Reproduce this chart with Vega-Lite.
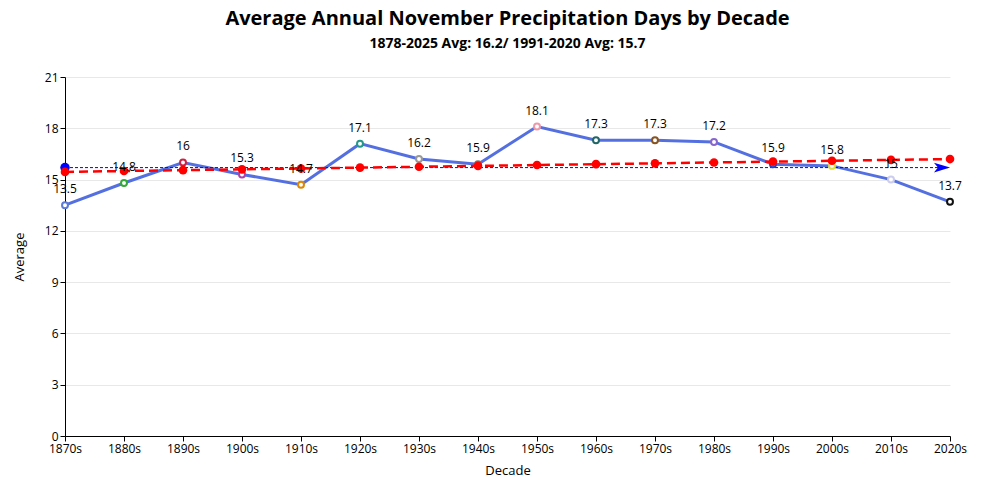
{
  "$schema": "https://vega.github.io/schema/vega-lite/v6.json",
  "width": 885,
  "height": 359,
  "autosize": {"type": "none"},
  "padding": {"left": 65, "top": 77, "right": 50, "bottom": 64},
  "background": "white",
  "title": {
    "text": "Average Annual November Precipitation Days by Decade",
    "subtitle": "1878-2025 Avg: 16.2/ 1991-2020 Avg: 15.7",
    "font": "Open Sans",
    "fontSize": 20,
    "fontWeight": "bold",
    "subtitleFont": "Open Sans",
    "subtitleFontSize": 14,
    "subtitleFontWeight": "bold",
    "subtitleColor": "black",
    "subtitlePadding": 8,
    "color": "black",
    "anchor": "middle",
    "offset": 20
  },
  "config": {
    "font": "Open Sans",
    "view": {"stroke": null},
    "axis": {
      "labelFont": "Open Sans",
      "titleFont": "Open Sans",
      "labelFontSize": 12,
      "titleFontSize": 13,
      "titleFontWeight": "normal",
      "labelColor": "black",
      "titleColor": "black",
      "domainColor": "black",
      "tickColor": "black",
      "gridColor": "#e8e8e8"
    }
  },
  "datasets": {
    "main": [
      {"decade": "1870s", "avg": 13.5},
      {"decade": "1880s", "avg": 14.8},
      {"decade": "1890s", "avg": 16.0},
      {"decade": "1900s", "avg": 15.3},
      {"decade": "1910s", "avg": 14.7},
      {"decade": "1920s", "avg": 17.1},
      {"decade": "1930s", "avg": 16.2},
      {"decade": "1940s", "avg": 15.9},
      {"decade": "1950s", "avg": 18.1},
      {"decade": "1960s", "avg": 17.3},
      {"decade": "1970s", "avg": 17.3},
      {"decade": "1980s", "avg": 17.2},
      {"decade": "1990s", "avg": 15.9},
      {"decade": "2000s", "avg": 15.8},
      {"decade": "2010s", "avg": 15.0},
      {"decade": "2020s", "avg": 13.7}
    ],
    "trend": [
      {"decade": "1870s", "trend": 15.45},
      {"decade": "1880s", "trend": 15.5},
      {"decade": "1890s", "trend": 15.55},
      {"decade": "1900s", "trend": 15.6},
      {"decade": "1910s", "trend": 15.65},
      {"decade": "1920s", "trend": 15.7},
      {"decade": "1930s", "trend": 15.75},
      {"decade": "1940s", "trend": 15.8},
      {"decade": "1950s", "trend": 15.85},
      {"decade": "1960s", "trend": 15.9},
      {"decade": "1970s", "trend": 15.95},
      {"decade": "1980s", "trend": 16.0},
      {"decade": "1990s", "trend": 16.05},
      {"decade": "2000s", "trend": 16.1},
      {"decade": "2010s", "trend": 16.15},
      {"decade": "2020s", "trend": 16.2}
    ],
    "ref": [
      {"decade": "1870s", "ref": 15.7, "end": "start"},
      {"decade": "2020s", "ref": 15.7, "end": "end"}
    ]
  },
  "encoding": {
    "x": {
      "field": "decade",
      "type": "ordinal",
      "scale": {"type": "point", "padding": 0},
      "axis": {"title": "Decade", "labelAngle": 0, "grid": false, "titlePadding": 10}
    }
  },
  "layer": [
    {
      "data": {"name": "main"},
      "mark": {"type": "line", "color": "#5470e0", "strokeWidth": 3},
      "encoding": {
        "y": {
          "field": "avg",
          "type": "quantitative",
          "scale": {"domain": [0, 21], "nice": false},
          "axis": {"title": "Average", "values": [0, 3, 6, 9, 12, 15, 18, 21], "titlePadding": 18}
        }
      }
    },
    {
      "data": {"name": "ref"},
      "mark": {"type": "line", "color": "blue", "strokeWidth": 1, "strokeDash": [3, 2]},
      "encoding": {"y": {"field": "ref", "type": "quantitative"}}
    },
    {
      "data": {"name": "ref"},
      "transform": [{"filter": "datum.end == 'start'"}],
      "mark": {"type": "point", "filled": true, "color": "blue", "size": 90, "opacity": 1},
      "encoding": {"y": {"field": "ref", "type": "quantitative"}}
    },
    {
      "data": {"name": "ref"},
      "transform": [{"filter": "datum.end == 'end'"}],
      "mark": {"type": "point", "shape": "M-1,-0.6L1,0L-1,0.6L-0.5,0Z", "filled": true, "color": "blue", "size": 260, "opacity": 1, "xOffset": -8},
      "encoding": {"y": {"field": "ref", "type": "quantitative"}}
    },
    {
      "data": {"name": "main"},
      "mark": {"type": "point", "filled": false, "fill": "white", "size": 35, "strokeWidth": 2, "opacity": 1},
      "encoding": {
        "y": {"field": "avg", "type": "quantitative"},
        "color": {
          "field": "decade",
          "type": "nominal",
          "legend": null,
          "scale": {
            "domain": ["1870s","1880s","1890s","1900s","1910s","1920s","1930s","1940s","1950s","1960s","1970s","1980s","1990s","2000s","2010s","2020s"],
            "range": ["#5b7bd5","#33aa33","#cc2244","#aa44aa","#dd8800","#22998a","#999999","#777777","#ee99aa","#226666","#885522","#8866cc","#2244cc","#dddd44","#ccccee","#111111"]
          }
        }
      }
    },
    {
      "data": {"name": "trend"},
      "mark": {"type": "line", "color": "red", "strokeWidth": 2.5, "strokeDash": [9, 5]},
      "encoding": {"y": {"field": "trend", "type": "quantitative"}}
    },
    {
      "data": {"name": "trend"},
      "mark": {"type": "point", "filled": true, "color": "red", "size": 75, "opacity": 1},
      "encoding": {"y": {"field": "trend", "type": "quantitative"}}
    },
    {
      "data": {"name": "main"},
      "mark": {"type": "text", "dy": -16, "fontSize": 12, "color": "black", "font": "Open Sans"},
      "encoding": {
        "y": {"field": "avg", "type": "quantitative"},
        "text": {"field": "avg", "type": "quantitative"}
      }
    }
  ]
}
